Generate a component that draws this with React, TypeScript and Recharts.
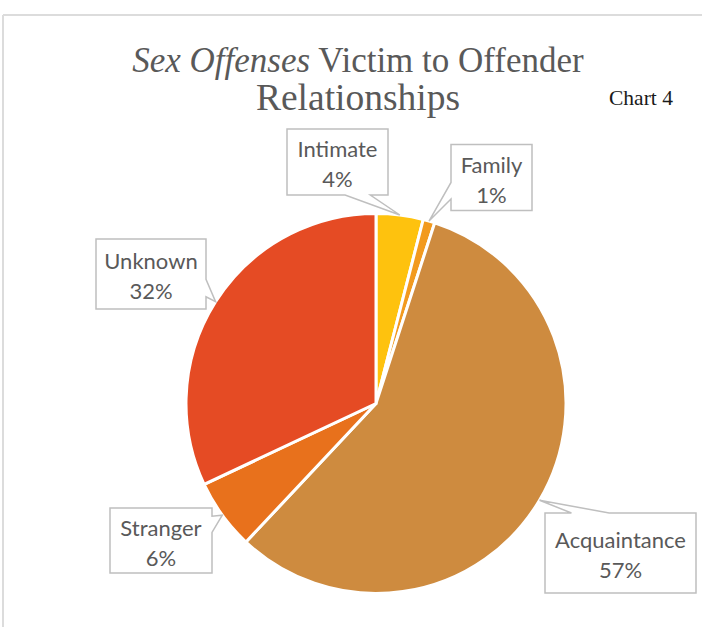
import React from 'react';
import { PieChart, Pie, Cell } from 'recharts';

// Sex offenses: victim to offender relationship (share, %)
const categories = ['Intimate', 'Family', 'Acquaintance', 'Stranger', 'Unknown'];
const shares = [4, 1, 57, 6, 32];
const colors = ['#FEC20E', '#F29A1F', '#CE8B3F', '#E8711C', '#E54B24'];

const data = categories.map((name, i) => ({ name, value: shares[i] }));

// callout box placement, relative to the pie centre
const calloutLayout: Record<string, { dx: number; dy: number; w: number; h: number }> = {
  Intimate: { dx: -38.5, dy: -241.5, w: 101, h: 66 },
  Family: { dx: 115.5, dy: -226, w: 81, h: 66 },
  Acquaintance: { dx: 244.5, dy: 149.5, w: 151, h: 80 },
  Stranger: { dx: -215, dy: 137, w: 102, h: 65 },
  Unknown: { dx: -225, dy: -129.5, w: 110, h: 70 },
};

const RAD = Math.PI / 180;
const clamp = (v: number, a: number, b: number) => Math.min(Math.max(v, a), b);

function calloutPath(x0: number, y0: number, w: number, h: number, tx: number, ty: number) {
  const x1 = x0 + w;
  const y1 = y0 + h;
  const outL = x0 - tx;
  const outR = tx - x1;
  const outT = y0 - ty;
  const outB = ty - y1;
  const m = Math.max(outL, outR, outT, outB);
  if (m === outB || m === outT) {
    const half = Math.max(w * 0.125, 6);
    const c = clamp(tx, x0 + w * 0.3, x1 - w * 0.3);
    if (m === outB) {
      return `M${x0},${y0} H${x1} V${y1} H${c + half} L${tx},${ty} L${c - half},${y1} H${x0} Z`;
    }
    return `M${x0},${y0} H${c - half} L${tx},${ty} L${c + half},${y0} H${x1} V${y1} H${x0} Z`;
  }
  const half = Math.max(h * 0.125, 6);
  const c = clamp(ty, y0 + h * 0.25, y1 - h * 0.3);
  if (m === outR) {
    return `M${x0},${y0} H${x1} V${c - half} L${tx},${ty} L${x1},${c + half} V${y1} H${x0} Z`;
  }
  return `M${x0},${y0} H${x1} V${y1} H${x0} V${c + half} L${tx},${ty} L${x0},${c - half} Z`;
}

const renderCallout = (props: any) => {
  const { cx, cy, midAngle, outerRadius, name, percent } = props;
  const box = calloutLayout[name];
  if (!box) return null;
  const tx = cx + outerRadius * Math.cos(-midAngle * RAD);
  const ty = cy + outerRadius * Math.sin(-midAngle * RAD);
  const bx = cx + box.dx;
  const by = cy + box.dy;
  return (
    <g key={`callout-${name}`}>
      <path
        d={calloutPath(bx - box.w / 2, by - box.h / 2, box.w, box.h, tx, ty)}
        fill="#fff"
        stroke="#BFBFBF"
        strokeWidth={1.5}
      />
      <text
        x={bx}
        textAnchor="middle"
        fontFamily="Lato, 'Open Sans', sans-serif"
        fontSize={22}
        fill="#595959"
      >
        <tspan x={bx} y={by - 5}>{name}</tspan>
        <tspan x={bx} y={by + 25}>{`${Math.round(percent * 100)}%`}</tspan>
      </text>
    </g>
  );
};

export default function App() {
  return (
    <div
      style={{
        position: 'absolute',
        left: 0,
        top: 0,
        width: 702,
        height: 627,
        overflow: 'hidden',
        background: '#fff',
      }}
    >
      <svg width={702} height={627} style={{ position: 'absolute', left: 0, top: 0 }}>
        <line x1={3} y1={15} x2={702} y2={15} stroke="#DCDCDC" strokeWidth={2} />
        <line x1={3} y1={15} x2={3} y2={627} stroke="#DCDCDC" strokeWidth={2} />
        <text
          x={358}
          y={72}
          textAnchor="middle"
          fontFamily="'Liberation Serif', serif"
          fontSize={35}
          fill="#595959"
        >
          <tspan fontStyle="italic">Sex Offenses</tspan>
          {' Victim to Offender'}
        </text>
        <text
          x={358}
          y={110}
          textAnchor="middle"
          fontFamily="'Liberation Serif', serif"
          fontSize={37.5}
          fill="#595959"
        >
          Relationships
        </text>
        <text x={609} y={105} fontFamily="'Liberation Serif', serif" fontSize={21.5} fill="#1a1a1a">
          Chart 4
        </text>
      </svg>
      <div style={{ position: 'absolute', left: 0, top: 0 }}>
        <PieChart width={702} height={627} margin={{ top: 0, right: 0, bottom: 0, left: 0 }}>
          <Pie
            data={data}
            dataKey="value"
            nameKey="name"
            cx={376}
            cy={403.5}
            outerRadius={190}
            startAngle={90}
            endAngle={-270}
            stroke="#fff"
            strokeWidth={3}
            label={renderCallout}
            labelLine={false}
            isAnimationActive={false}
          >
            {data.map((d, i) => (
              <Cell key={d.name} fill={colors[i]} />
            ))}
          </Pie>
        </PieChart>
      </div>
    </div>
  );
}
